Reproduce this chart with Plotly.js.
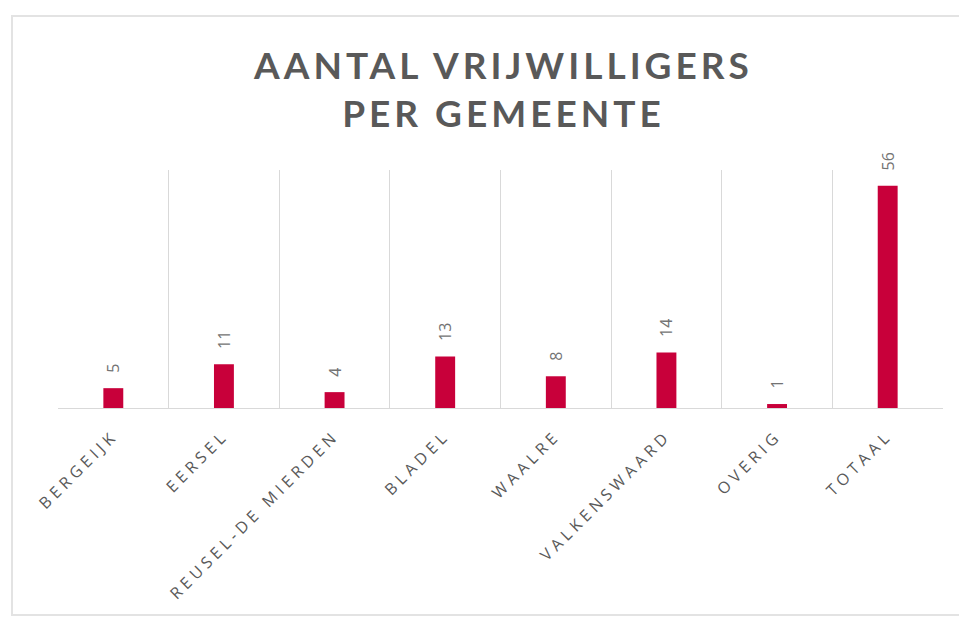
<!DOCTYPE html>
<html>
<head>
<meta charset="utf-8">
<script src="https://cdn.plot.ly/plotly-3.0.1.min.js"></script>
<style>
  html, body { margin: 0; padding: 0; background: #fff; overflow: hidden; }
  #frame { position: absolute; left: 11px; top: 15px; width: 1000px; height: 601px;
           border: 2px solid #e3e3e3; box-sizing: border-box; }
  #chart { position: absolute; left: 0; top: 0; width: 959px; height: 619px; }
  .gtitle { letter-spacing: 4px; }
  .xtick text { letter-spacing: 4.4px; }
</style>
</head>
<body>
<div id="frame"></div>
<div id="chart"></div>
<script>
const categories = ["BERGEIJK", "EERSEL", "REUSEL-DE MIERDEN", "BLADEL", "WAALRE", "VALKENSWAARD", "OVERIG", "TOTAAL"];
const values = [5, 11, 4, 13, 8, 14, 1, 56];
const chartTitle = "AANTAL VRIJWILLIGERS<br>PER GEMEENTE";

const trace = {
  type: "bar",
  x: categories,
  y: values,
  marker: { color: "#C8003A" },
  text: values.map(v => "\u00a0\u00a0\u00a0" + v),
  textposition: "outside",
  textangle: -90,
  constraintext: "none",
  cliponaxis: false,
  textfont: { family: "Open Sans, sans-serif", size: 16, color: "#737373" },
  hoverinfo: "skip"
};

const layout = {
  width: 959,
  height: 619,
  margin: { l: 58, r: 16, t: 170, b: 211 },
  paper_bgcolor: "rgba(0,0,0,0)",
  plot_bgcolor: "rgba(0,0,0,0)",
  bargap: 0.82,
  showlegend: false,
  title: {
    text: chartTitle,
    x: 0.525, xanchor: "center",
    y: 0.872, yanchor: "top",
    yref: "container",
    font: { family: "Lato, sans-serif", size: 37, color: "#595959", weight: 700 }
  },
  xaxis: {
    type: "category",
    tickangle: -45,
    tickson: "boundaries",
    ticks: "",
    ticklabelstandoff: 11,
    showgrid: true,
    gridcolor: "#d9d9d9",
    gridwidth: 1,
    showline: true,
    linecolor: "#d9d9d9",
    linewidth: 1,
    tickfont: { family: "Open Sans, sans-serif", size: 16, color: "#595959" },
    range: [-0.5, 7.5]
  },
  yaxis: {
    range: [0, 60],
    showgrid: false,
    showticklabels: false,
    zeroline: false,
    showline: false,
    ticks: ""
  }
};

Plotly.newPlot("chart", [trace], layout, { displayModeBar: false, staticPlot: true });
</script>
</body>
</html>
